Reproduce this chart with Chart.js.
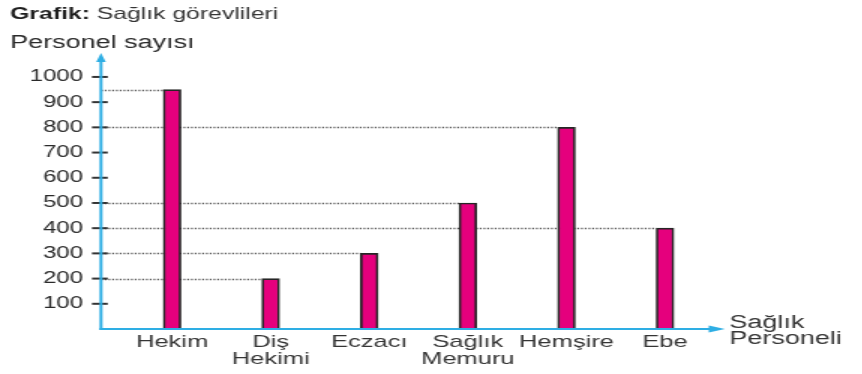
<!DOCTYPE html>
<html lang="tr">
<head>
<meta charset="utf-8">
<title>Grafik: Sağlık görevlileri</title>
<script src="https://cdn.jsdelivr.net/npm/chart.js@4/dist/chart.umd.min.js"></script>
<style>
  html, body { margin: 0; padding: 0; background: #ffffff; overflow: hidden; }
  #wrap { width: 862px; height: 374px; overflow: hidden; }
  /* the drawing is laid out narrow and widened 1.5x, giving the broad lettering */
  #c { display: block; transform: scaleX(1.5); transform-origin: 0 0; }
</style>
</head>
<body>
<div id="wrap"><canvas id="c" width="575" height="374"></canvas></div>
<script>
// Sağlık personeli türleri ve sayıları
const categories = ['Hekim', ['Diş', 'Hekimi'], 'Eczacı', ['Sağlık', 'Memuru'], 'Hemşire', 'Ebe'];
const personnel = [950, 200, 300, 500, 800, 400];
const yTicks = [100, 200, 300, 400, 500, 600, 700, 800, 900, 1000];

const FONT = '"Liberation Sans", Arial, Helvetica, sans-serif';
const AXIS_BLUE = '#2eaee4';
const TEXT = '#353535';

// Axes with arrows, crossing tick marks, dotted guide lines and captions
const decorations = {
  id: 'decorations',
  beforeDatasetsDraw(chart) {
    const { ctx, chartArea } = chart;
    const meta = chart.getDatasetMeta(0);
    ctx.save();
    ctx.strokeStyle = '#555555';
    ctx.lineWidth = 1.3;
    ctx.setLineDash([1.2, 1.3]);
    meta.data.forEach((bar) => {
      const y = Math.round(bar.y) + 0.5;
      const left = bar.x - bar.width / 2;
      ctx.beginPath();
      ctx.moveTo(chartArea.left, y);
      ctx.lineTo(left, y);
      ctx.stroke();
    });
    ctx.restore();
  },
  afterDatasetsDraw(chart) {
    const { ctx, chartArea, scales } = chart;
    const x0 = chartArea.left;
    const y0 = chartArea.bottom;
    ctx.save();

    // tick marks across the vertical axis
    ctx.strokeStyle = '#333333';
    ctx.lineWidth = 2;
    yTicks.forEach((v) => {
      const y = scales.y.getPixelForValue(v);
      ctx.beginPath();
      ctx.moveTo(x0 - 6, y);
      ctx.lineTo(x0 + 4.5, y);
      ctx.stroke();
    });

    // vertical axis with arrow
    ctx.strokeStyle = AXIS_BLUE;
    ctx.fillStyle = AXIS_BLUE;
    ctx.lineWidth = 2;
    ctx.beginPath();
    ctx.moveTo(x0, y0 + 1);
    ctx.lineTo(x0, chartArea.top + 6);
    ctx.stroke();
    ctx.beginPath();
    ctx.moveTo(x0, chartArea.top - 1);
    ctx.lineTo(x0 - 3.2, chartArea.top + 8);
    ctx.lineTo(x0 + 3.2, chartArea.top + 8);
    ctx.closePath();
    ctx.fill();

    // horizontal axis with arrow
    ctx.lineWidth = 2;
    ctx.beginPath();
    ctx.moveTo(x0 - 1, y0);
    ctx.lineTo(chartArea.right - 6, y0);
    ctx.stroke();
    ctx.beginPath();
    ctx.moveTo(chartArea.right + 1.3, y0);
    ctx.lineTo(chartArea.right - 9.5, y0 - 3.5);
    ctx.lineTo(chartArea.right - 9.5, y0 + 3.5);
    ctx.closePath();
    ctx.fill();

    // captions
    ctx.textBaseline = 'alphabetic';
    ctx.textAlign = 'left';
    ctx.fillStyle = '#1e1e1e';
    ctx.font = 'bold 16.5px ' + FONT;
    const lead = 'Grafik:';
    ctx.fillText(lead, 6.7, 19);
    const leadW = ctx.measureText(lead + ' ').width;
    ctx.fillStyle = TEXT;
    ctx.font = '16.5px ' + FONT;
    ctx.fillText('Sağlık görevlileri', 6.7 + leadW, 19);

    ctx.font = '18px ' + FONT;
    ctx.fillStyle = '#2a2a2a';
    ctx.fillText('Personel sayısı', 6.7, 48.3);

    ctx.fillStyle = TEXT;
    ctx.fillText('Sağlık', chartArea.right + 4.3, 327.5);
    ctx.fillText('Personeli', chartArea.right + 4.3, 343.8);
    ctx.restore();
  }
};

new Chart(document.getElementById('c'), {
  type: 'bar',
  data: {
    datasets: [{
      data: personnel.map((v, i) => ({ x: i, y: v })),
      backgroundColor: '#e5007d',
      borderColor: '#262626',
      borderWidth: 1.7,
      barThickness: 11.7
    }]
  },
  options: {
    responsive: false,
    animation: false,
    devicePixelRatio: 1,
    layout: { padding: { top: 54, right: 93, bottom: 0, left: 0 } },
    plugins: { legend: { display: false }, tooltip: { enabled: false } },
    scales: {
      x: {
        type: 'linear',
        offset: false,
        min: -0.721,
        max: 5.588,
        grid: { display: false, drawTicks: false, offset: false },
        border: { display: false },
        afterBuildTicks: (s) => { s.ticks = categories.map((c, i) => ({ value: i })); },
        afterFit: (s) => { s.height = 45; },
        ticks: {
          autoSkip: false,
          maxRotation: 0,
          padding: 5,
          color: TEXT,
          font: { family: FONT, size: 17, lineHeight: 1 },
          callback: (v) => categories[v]
        }
      },
      y: {
        min: 0,
        max: 1091,
        grid: { display: false, drawTicks: false },
        border: { display: false },
        afterBuildTicks: (s) => { s.ticks = yTicks.map((v) => ({ value: v })); },
        afterFit: (s) => { s.width = 67.33; },
        ticks: {
          padding: 12,
          color: '#2a2a2a',
          font: { family: FONT, size: 16 },
          callback: (v) => String(v)
        }
      }
    }
  },
  plugins: [decorations]
});
</script>
</body>
</html>
